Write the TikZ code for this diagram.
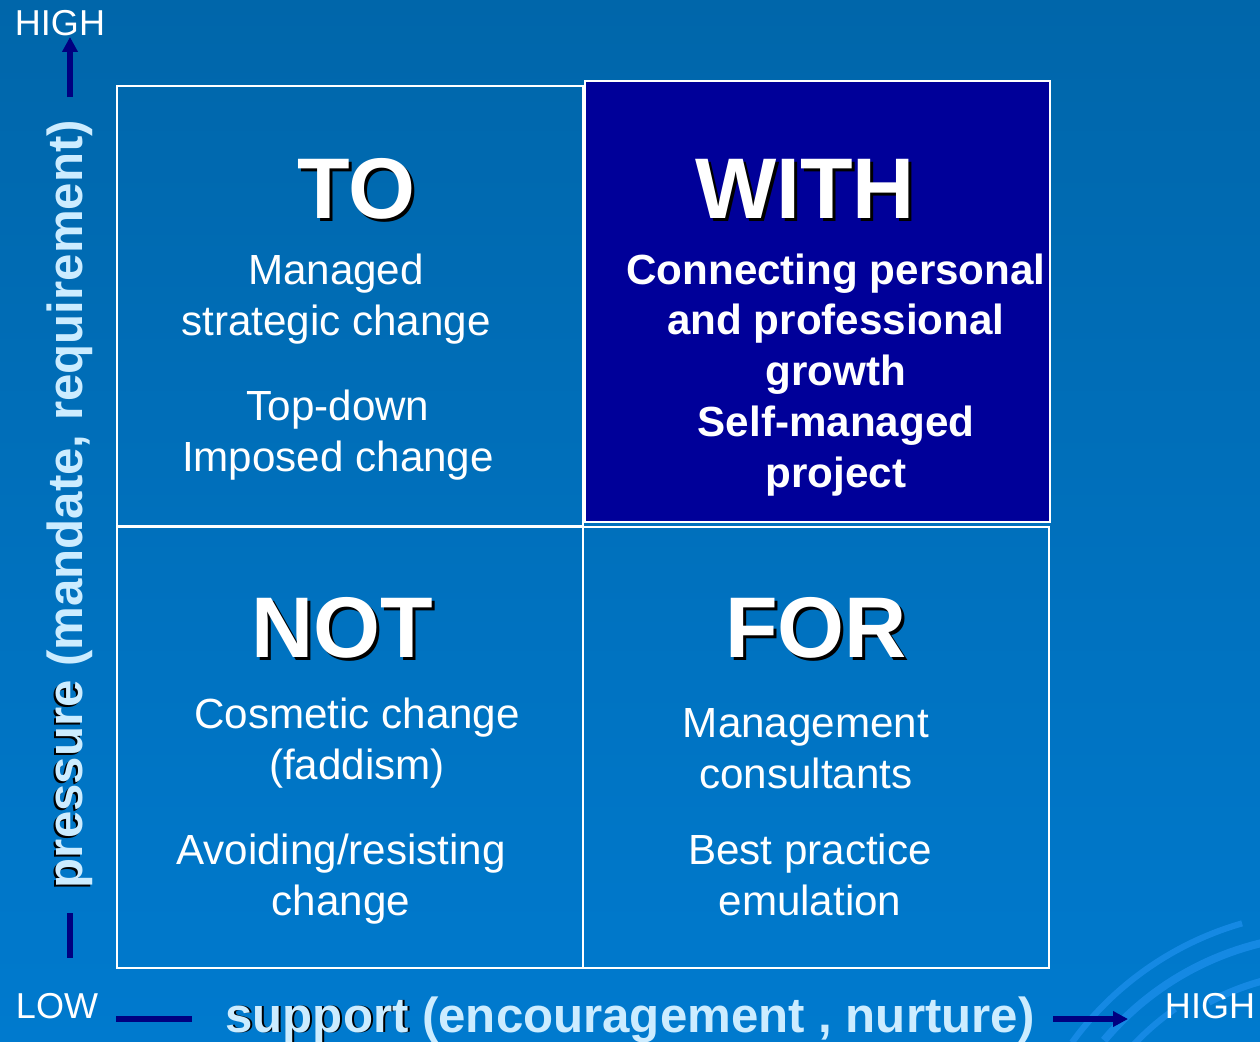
\documentclass[tikz,border=0pt]{standalone}
\usepackage{fontspec}
\setmainfont{Liberation Sans}
\usetikzlibrary{positioning,arrows.meta}
\definecolor{bgtop}{RGB}{0,102,170}
\definecolor{bgbot}{RGB}{0,122,206}
\definecolor{swirl}{RGB}{25,140,232}
\definecolor{navybox}{RGB}{0,0,153}
\definecolor{navyline}{RGB}{0,0,128}
\definecolor{pale}{RGB}{204,236,255}
\tikzset{
  cell/.style={draw=white,line width=1.6pt},
  head/.style={inner sep=0pt,font=\bfseries\fontsize{49}{49}\selectfont},
  body/.style={text=white,align=center,font=\fontsize{24}{29}\selectfont},
  axislab/.style={inner sep=0pt,font=\bfseries\fontsize{28}{28}\selectfont},
  level/.style={text=white,inner sep=0pt,font=\fontsize{20.5}{20.5}\selectfont},
  axis/.style={navyline,line width=2.9pt},
  tip/.style={-{Triangle[length=8.5pt,width=8.5pt]}},
}
% white word with a black drop shadow: name, x, y, text
\newcommand{\bigword}[4]{%
  \node[head,text=black] at (#2+3,#3+3) {#4};
  \node[head,text=white] (#1) at (#2,#3) {#4};}

\begin{document}
\begin{tikzpicture}[x=0.02cm,y=-0.02cm]
\shade[top color=bgtop,bottom color=bgbot] (0,0) rectangle (1260,1041);
\useasboundingbox (0,0) rectangle (1260,1041);

% swirl in the corner
\begin{scope}[swirl,opacity=0.85]
  \foreach \r/\w/\a/\b in {319/3.5/-144/-106, 295/4.5/-140/-95, 258/4/-118/-92, 270/3.5/-137/-125}
    \draw[line width=\w pt] (1330,1230) ++(\a:\r) arc[start angle=\a,end angle=\b,radius=\r];
\end{scope}

% the four cells
\draw[cell] (117,86) rectangle (583,526);
\draw[cell] (117,527) rectangle (583,968);
\draw[cell] (583,527) rectangle (1049,968);
\draw[cell,fill=navybox] (585,81) rectangle (1050,522);

\bigword{to}{356}{189}{TO}
\bigword{with}{805}{189}{WITH}
\bigword{not}{342}{628}{NOT}
\bigword{for}{816}{628}{FOR}

\node[body] (tofirst) at (336,299) {Managed\\strategic change};
\node[body] (tosecond) at (338,435) {Top-down\\Imposed change};
\node[body,font=\bfseries\fontsize{24}{29}\selectfont] (withtext) at (836,375)
  {Connecting personal\\and professional\\growth\\Self-managed\\project};
\node[body] (notfirst) at (357,743) {Cosmetic change\\(faddism)};
\node[body] (notsecond) at (341,879) {Avoiding/resisting\\change};
\node[body] (forfirst) at (806,749) {Management\\consultants};
\node[body] (forsecond) at (810,875) {Best practice\\emulation};

% axes
\node[level] (hightop) at (60,23) {HIGH};
\node[level] (lowlab) at (57,1006) {LOW};
\node[level] (highright) at (1210,1006) {HIGH};

\coordinate (ybase) at (70,97);
\coordinate (ytip) at (70,37);
\coordinate (ylowa) at (70,913);
\coordinate (ylowb) at (70,958);
\coordinate (xlowa) at (116,1019);
\coordinate (xlowb) at (192,1019);
\coordinate (xbase) at (1053,1019);
\coordinate (xtip) at (1128,1019);
\draw[axis,tip] (ybase) -- (ytip);
\draw[axis] (ylowa) -- (ylowb);
\draw[axis] (xlowa) -- (xlowb);
\draw[axis,tip] (xbase) -- (xtip);

\node[axislab,rotate=90,text=black] at (72,506)
  {pressure\hphantom{ (mandate, requirement)}};
\node[axislab,rotate=90,text=pale] (ylab) at (70,504) {pressure (mandate, requirement)};
\node[axislab,text=black] at (632,1022)
  {support\hphantom{ (encouragement , nurture)}};
\node[axislab,text=pale] (xlab) at (630,1020) {support (encouragement , nurture)};
\end{tikzpicture}
\end{document}
